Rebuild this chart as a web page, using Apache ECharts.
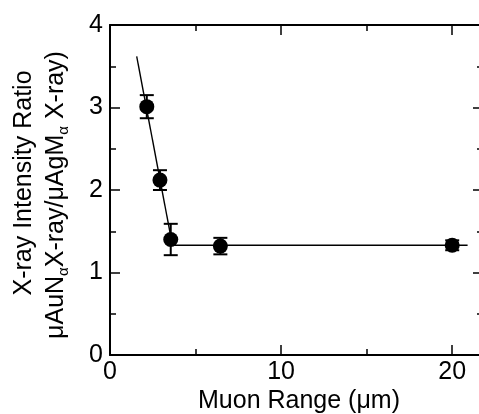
<!DOCTYPE html>
<html>
<head>
<meta charset="utf-8">
<script src="https://cdn.jsdelivr.net/npm/echarts@6/dist/echarts.min.js"></script>
<style>html,body{margin:0;padding:0;background:#fff}#c{width:479px;height:414px}</style>
</head>
<body>
<div id="c"></div>
<script>
// Data
var muonRange = [2.15, 2.92, 3.55, 6.45, 20.0];
var intensityRatio = [3.01, 2.12, 1.40, 1.32, 1.33];
var errorHalf = [0.14, 0.12, 0.19, 0.10, 0.06];
var steepFitX = [1.56, 3.65];
var steepFitY = [3.62, 1.33];
var flatFitX = [3.65, 20.9];
var flatFitY = [1.33, 1.33];
var xTicks = [0, 10, 20];
var yTicks = [0, 1, 2, 3, 4];

var FONT = '"Liberation Sans", Arial, Helvetica, sans-serif';
var chart = echarts.init(document.getElementById('c'), null, {renderer: 'canvas'});

function pairs(xs, ys) { return xs.map(function (x, i) { return [x, ys[i]]; }); }

var axisLine = {show: true, onZero: false, lineStyle: {color: '#000', width: 2}};
var tick = {show: true, inside: true, length: 10, lineStyle: {color: '#000', width: 1.5}};
var minor = {show: true, splitNumber: 2, length: 6, lineStyle: {color: '#000', width: 1.5}};

var option = {
  animation: false,
  backgroundColor: '#fff',
  grid: {left: 110, top: 25, width: 373, height: 330, containLabel: false, outerBoundsMode: 'none'},
  xAxis: [{
    type: 'value', min: 0, max: 21.8, interval: 10, position: 'bottom',
    axisLine: axisLine, axisTick: tick, minorTick: minor, splitLine: {show: false},
    axisLabel: {show: true, color: '#000', fontSize: 25, fontFamily: FONT, margin: 5,
      formatter: function (v) { return xTicks.indexOf(v) >= 0 ? String(v) : ''; }}
  }, {
    type: 'value', min: 0, max: 21.8, interval: 10, position: 'top',
    axisLine: axisLine, axisTick: tick, minorTick: minor, splitLine: {show: false},
    axisLabel: {show: false}
  }],
  yAxis: [{
    type: 'value', min: 0, max: 4, interval: 1, position: 'left',
    axisLine: axisLine, axisTick: tick, minorTick: minor, splitLine: {show: false},
    axisLabel: {show: true, color: '#000', fontSize: 25, fontFamily: FONT, margin: 7,
      formatter: function (v) { return yTicks.indexOf(v) >= 0 ? String(v) : ''; }}
  }, {
    type: 'value', min: 0, max: 4, interval: 1, position: 'right',
    axisLine: axisLine, axisTick: tick, minorTick: minor, splitLine: {show: false},
    axisLabel: {show: false}
  }],
  series: [{
    type: 'line', data: pairs(steepFitX, steepFitY), symbol: 'none',
    lineStyle: {color: '#000', width: 1.4}, z: 2
  }, {
    type: 'line', data: pairs(flatFitX, flatFitY), symbol: 'none',
    lineStyle: {color: '#000', width: 1.4}, z: 2
  }, {
    type: 'custom', z: 3,
    data: muonRange.map(function (x, i) { return [x, intensityRatio[i] - errorHalf[i], intensityRatio[i] + errorHalf[i]]; }),
    renderItem: function (params, api) {
      var lo = api.coord([api.value(0), api.value(1)]);
      var hi = api.coord([api.value(0), api.value(2)]);
      var w = 7;
      var st = {stroke: '#000', lineWidth: 2};
      return {type: 'group', children: [
        {type: 'line', shape: {x1: lo[0], y1: lo[1], x2: hi[0], y2: hi[1]}, style: st},
        {type: 'line', shape: {x1: lo[0] - w, y1: lo[1], x2: lo[0] + w, y2: lo[1]}, style: st},
        {type: 'line', shape: {x1: hi[0] - w, y1: hi[1], x2: hi[0] + w, y2: hi[1]}, style: st}
      ]};
    }
  }, {
    type: 'scatter', data: pairs(muonRange, intensityRatio), symbol: 'circle', symbolSize: 15,
    itemStyle: {color: '#000', opacity: 1}, z: 4
  }],
  graphic: [{
    type: 'text', x: 24, y: 183, rotation: Math.PI / 2,
    style: {text: 'X-ray Intensity Ratio', font: '25px ' + FONT, fill: '#000',
      align: 'center', verticalAlign: 'middle'}
  }, {
    type: 'text', x: 56, y: 195, rotation: Math.PI / 2,
    style: {
      text: '{m|μAuN}{s|α}{m|X-ray/μAgM}{s|α}{m| X-ray)}',
      align: 'center', verticalAlign: 'middle', fill: '#000',
      rich: {
        m: {fontSize: 25, fontFamily: FONT, fill: '#000', lineHeight: 30, verticalAlign: 'middle'},
        s: {fontSize: 15, fontFamily: FONT, fill: '#000', lineHeight: 30, verticalAlign: 'bottom', padding: [10, 0, 0, 0]}
      }
    }
  }, {
    type: 'text', x: 299, y: 401,
    style: {text: 'Muon Range (μm)', font: '25px ' + FONT, fill: '#000',
      align: 'center', verticalAlign: 'middle'}
  }]
};
chart.setOption(option);
</script>
</body>
</html>
